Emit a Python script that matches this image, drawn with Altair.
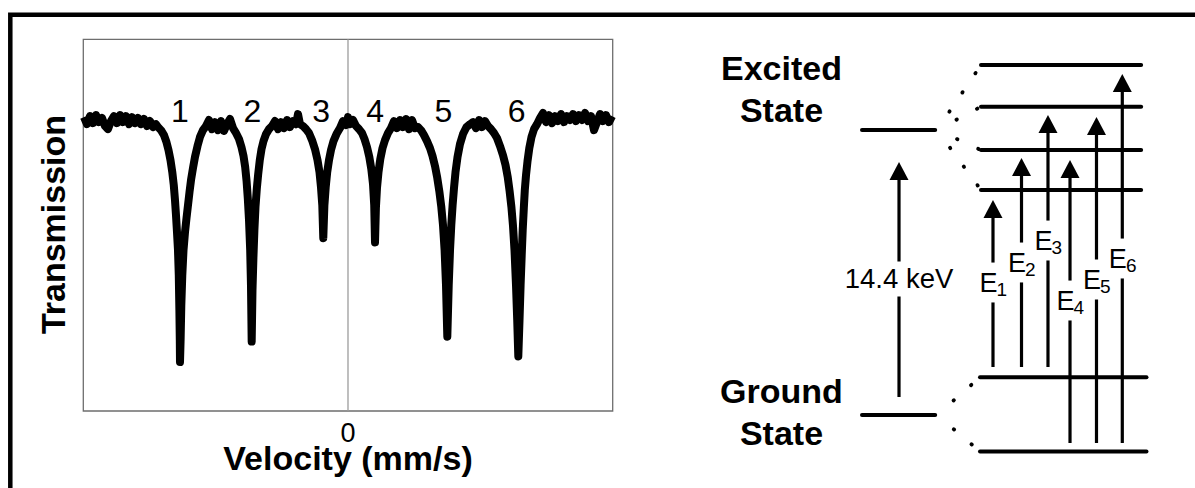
import altair as alt
import pandas as pd

FONT = "Liberation Sans"

# ---------------- Mossbauer spectrum ----------------
velocity = [
    -8.279, -8.184, -8.090, -7.996, -7.902, -7.808, -7.714, -7.620, -7.526, -7.432,
    -7.338, -7.244, -7.150, -7.056, -6.961, -6.867, -6.773, -6.679, -6.585, -6.491,
    -6.397, -6.303, -6.209, -6.115, -6.021,
    -5.958, -5.864, -5.770, -5.692, -5.629, -5.566, -5.510, -5.463, -5.425, -5.394,
    -5.362, -5.331, -5.306, -5.287, -5.274, -5.268, -5.249, -5.227, -5.196, -5.158,
    -5.111, -5.064, -5.017, -4.970, -4.923, -4.861, -4.798, -4.719, -4.641, -4.547, -4.453,
    -4.359, -4.265, -4.171, -4.077, -3.982, -3.888, -3.794, -3.700,
    -3.606, -3.512, -3.418, -3.340, -3.277, -3.224, -3.180, -3.142, -3.104, -3.067,
    -3.042, -3.020, -2.995, -2.966, -2.935, -2.901, -2.860, -2.816, -2.766, -2.712,
    -2.650, -2.571, -2.477, -2.383,
    -2.289, -2.195, -2.101, -2.007, -1.913, -1.819, -1.725, -1.631, -1.568, -1.505,
    -1.411, -1.317, -1.223, -1.129, -1.035, -0.956, -0.894, -0.847, -0.806, -0.775,
    -0.740, -0.699, -0.652, -0.596, -0.533, -0.455, -0.361, -0.251,
    -0.157, -0.063, 0.000, 0.063, 0.157,
    0.251, 0.345, 0.439, 0.517, 0.596, 0.668, 0.731, 0.784, 0.822, 0.847,
    0.875, 0.909, 0.956, 1.013, 1.082, 1.160, 1.254, 1.348,
    1.442, 1.537, 1.631, 1.725, 1.819, 1.913, 2.007, 2.101,
    2.195, 2.289, 2.383, 2.477, 2.571, 2.650, 2.728, 2.800, 2.863, 2.923,
    2.979, 3.029, 3.073, 3.114, 3.158, 3.199, 3.239, 3.280, 3.324, 3.371,
    3.434, 3.512, 3.606, 3.716, 3.826,
    3.920, 4.014, 4.108, 4.202, 4.296,
    4.390, 4.484, 4.578, 4.672, 4.766, 4.860, 4.939, 5.008, 5.067, 5.124,
    5.174, 5.221, 5.268, 5.306, 5.340, 5.378, 5.412, 5.447, 5.478, 5.513,
    5.544, 5.582, 5.629, 5.685, 5.754, 5.833, 5.927,
    6.021, 6.115, 6.209, 6.303, 6.397, 6.491, 6.585, 6.679, 6.773, 6.867,
    6.961, 7.056, 7.150, 7.244, 7.338, 7.432, 7.526, 7.620, 7.714, 7.808,
    7.902, 7.996, 8.090, 8.184, 8.279,
]
transmission = [
    100.19, 99.85, 100.24, 99.90, 100.29, 99.95, 100.15, 99.76, 99.61, 100.00,
    100.24, 99.90, 100.29, 99.95, 100.24, 99.85, 100.19, 99.90, 100.15, 99.85,
    100.10, 99.76, 100.00, 99.71, 99.85,
    99.71, 99.56, 99.32, 98.98, 98.60, 98.11, 97.53, 96.90, 96.17, 95.45,
    94.62, 93.75, 92.54, 90.85, 89.39, 88.33, 89.39, 91.09, 92.54, 93.75,
    94.62, 95.30, 95.93, 96.56, 97.14, 97.72, 98.26, 98.79, 99.23, 99.56, 99.76,
    100.05, 99.61, 99.95, 99.56, 100.00, 99.52, 99.85, 100.10,
    99.66, 99.42, 99.13, 98.74, 98.31, 97.77, 97.09, 96.27, 95.21, 93.75,
    92.06, 89.32, 91.82, 93.37, 94.72, 95.84, 96.71, 97.43, 98.11, 98.64,
    99.03, 99.37, 99.61, 99.76,
    100.00, 99.61, 99.95, 99.66, 100.05, 99.71, 100.00, 99.85, 100.34, 99.85,
    99.76, 99.61, 99.42, 99.08, 98.64, 98.11, 97.53, 96.80, 95.93, 94.33,
    95.93, 96.80, 97.53, 98.11, 98.60, 99.03, 99.37, 99.66,
    100.00, 99.81, 100.19, 99.85, 100.05,
    99.76, 99.61, 99.42, 99.13, 98.74, 98.26, 97.68, 96.95, 95.93, 94.12,
    95.79, 96.76, 97.53, 98.16, 98.69, 99.08, 99.42, 99.66,
    100.00, 99.66, 100.05, 99.71, 100.10, 99.61, 100.05, 99.66,
    99.71, 99.56, 99.32, 99.03, 98.69, 98.31, 97.82, 97.24, 96.61, 95.88,
    94.96, 93.75, 92.06, 89.56, 92.06, 93.75, 94.96, 95.93, 96.76, 97.53,
    98.26, 98.89, 99.37, 99.71, 99.85,
    99.95, 99.66, 100.05, 99.71, 100.00,
    99.76, 99.61, 99.42, 99.18, 98.79, 98.35, 97.87, 97.29, 96.61, 95.84,
    94.92, 93.75, 92.06, 90.36, 88.60, 90.36, 92.06, 93.51, 94.72, 95.79,
    96.66, 97.38, 98.06, 98.69, 99.23, 99.61, 99.85,
    100.15, 100.39, 99.95, 100.29, 99.90, 100.24, 100.00, 100.34, 99.95, 100.24,
    100.05, 100.34, 100.00, 100.29, 100.05, 100.39, 100.00, 100.24, 99.56, 99.95,
    100.34, 100.00, 100.29, 99.95, 100.24,
]
assert len(velocity) == len(transmission)

peak_names = ["1", "2", "3", "4", "5", "6"]
peak_label_v = [-5.27, -3.00, -0.84, 0.85, 2.99, 5.29]
peak_label_t = 99.95

v_domain = [-8.3, 8.3]
t_domain = [85.96, 103.96]
zero_tick = ["0"]
x_title = "Velocity (mm/s)"
y_title = "Transmission"

# ---------------- energy level diagram (schematic units) ----------------
left_levels_x = [0.7, 26.3]
left_levels_e = [10.0, 0.0]                       # excited, ground (unsplit)
excited_split_e = [12.281, 10.818, 9.298, 7.895]
excited_split_x = [42.31, 98.3]
ground_split_e = [1.323, -1.281]
ground_split_x = [41.96, 100.17]
fan_start_x = 26.92

arrow_names = ["14.4 keV", "E1", "E2", "E3", "E4", "E5", "E6"]
arrow_x = [13.64, 46.50, 56.47, 65.73, 73.43, 82.69, 91.71]
arrow_bottom = [0.632, 1.684, 1.684, 1.684, -0.982, -0.982, -0.982]
arrow_tip = [8.877, 7.544, 9.018, 10.526, 8.947, 10.456, 11.965]
label_base = [4.439, 4.316, 5.018, 5.789, 3.684, 4.421, 5.158]
label_gap = [0.614, 0.70, 0.70, 0.70, 0.70, 0.70, 0.70]

state_text = ["Excited", "State", "Ground", "State"]
state_text_e = [11.754, 10.291, 0.411, -1.053]
state_text_x = -27.45

VX = alt.Scale(domain=v_domain, range=[83.3, 612.7], nice=False, zero=False)
TY = alt.Scale(domain=t_domain, range=[411, 39.3], nice=False, zero=False)
DX = alt.Scale(domain=[0, 100], range=[860, 1146], nice=False, zero=False)
DY = alt.Scale(domain=[0, 10], range=[415, 130], nice=False, zero=False)

# ---------------- spectrum layers ----------------
spec_df = pd.DataFrame({"v": velocity, "t": transmission})
box_df = pd.DataFrame({"v1": [v_domain[0]], "v2": [v_domain[1]],
                       "t1": [t_domain[0]], "t2": [t_domain[1]]})

box = alt.Chart(box_df).mark_rect(filled=False, stroke="#6e6e6e", strokeWidth=1.3).encode(
    x=alt.X("v1:Q", scale=VX, axis=None), x2="v2:Q",
    y=alt.Y("t1:Q", scale=TY, axis=None), y2="t2:Q")
zero = alt.Chart(pd.DataFrame({"v": [0.0], "t1": [t_domain[0]], "t2": [t_domain[1]]})).mark_rule(
    color="#9c9c9c", strokeWidth=1.3).encode(
    x=alt.X("v:Q", scale=VX, axis=None),
    y=alt.Y("t1:Q", scale=TY, axis=None), y2="t2:Q")
line = alt.Chart(spec_df).mark_line(color="black", strokeWidth=8, strokeJoin="round").encode(
    x=alt.X("v:Q", scale=VX, axis=None),
    y=alt.Y("t:Q", scale=TY, axis=None))
peak_lbl = alt.Chart(pd.DataFrame({"v": peak_label_v, "t": [peak_label_t] * 6, "s": peak_names})).mark_text(
    font=FONT, fontSize=32, color="black", align="center", baseline="alphabetic").encode(
    x=alt.X("v:Q", scale=VX, axis=None), y=alt.Y("t:Q", scale=TY, axis=None), text="s:N")
zero_lbl = alt.Chart(pd.DataFrame({"v": [0.0], "t": [84.48], "s": zero_tick})).mark_text(
    font=FONT, fontSize=27, color="black", align="center", baseline="alphabetic").encode(
    x=alt.X("v:Q", scale=VX, axis=None), y=alt.Y("t:Q", scale=TY, axis=None), text="s:N")
xt = alt.Chart(pd.DataFrame({"v": [0.0], "t": [83.10], "s": [x_title]})).mark_text(
    font=FONT, fontSize=34, fontWeight="bold", color="black", align="center", baseline="alphabetic").encode(
    x=alt.X("v:Q", scale=VX, axis=None), y=alt.Y("t:Q", scale=TY, axis=None), text="s:N")
yt = alt.Chart(pd.DataFrame({"v": [-8.868], "t": [94.99], "s": [y_title]})).mark_text(
    font=FONT, fontSize=34, fontWeight="bold", color="black", align="center", baseline="alphabetic",
    angle=270).encode(
    x=alt.X("v:Q", scale=VX, axis=None), y=alt.Y("t:Q", scale=TY, axis=None), text="s:N")

spectrum = alt.layer(box, zero, line, peak_lbl, zero_lbl, xt, yt)

# ---------------- diagram layers ----------------
lv_rows = []
for e in left_levels_e:
    lv_rows.append({"x1": left_levels_x[0], "x2": left_levels_x[1], "e": e})
for e in excited_split_e:
    lv_rows.append({"x1": excited_split_x[0], "x2": excited_split_x[1], "e": e})
for e in ground_split_e:
    lv_rows.append({"x1": ground_split_x[0], "x2": ground_split_x[1], "e": e})
levels = alt.Chart(pd.DataFrame(lv_rows)).mark_rule(color="black", strokeWidth=4, strokeCap="round").encode(
    x=alt.X("x1:Q", scale=DX, axis=None), x2="x2:Q",
    y=alt.Y("e:Q", scale=DY, axis=None))

fan_rows = []
for e in excited_split_e:
    fan_rows.append({"x1": fan_start_x, "e1": left_levels_e[0], "x2": excited_split_x[0], "e2": e})
for e in ground_split_e:
    fan_rows.append({"x1": fan_start_x, "e1": left_levels_e[1], "x2": ground_split_x[0], "e2": e})
fans = alt.Chart(pd.DataFrame(fan_rows)).mark_rule(
    color="black", strokeWidth=3.8, strokeCap="round", strokeDash=[0.5, 22.7], strokeDashOffset=1.2).encode(
    x=alt.X("x1:Q", scale=DX, axis=None), x2="x2:Q",
    y=alt.Y("e1:Q", scale=DY, axis=None), y2="e2:Q")

arr_df = pd.DataFrame({"name": arrow_names, "x": arrow_x, "bottom": arrow_bottom, "tip": arrow_tip,
                       "base": label_base, "gap": label_gap})
arr_df["center"] = arr_df["base"] + 0.333
seg_rows = []
for _, r in arr_df.iterrows():
    seg_rows.append({"x": r["x"], "e1": r["bottom"], "e2": r["center"] - r["gap"]})
    seg_rows.append({"x": r["x"], "e1": r["center"] + r["gap"], "e2": r["tip"] - 0.35})
shafts = alt.Chart(pd.DataFrame(seg_rows)).mark_rule(color="black", strokeWidth=3.2).encode(
    x=alt.X("x:Q", scale=DX, axis=None),
    y=alt.Y("e1:Q", scale=DY, axis=None), y2="e2:Q")
heads = alt.Chart(arr_df).mark_point(shape="M0,0L1,1.9L-1,1.9Z", size=361, filled=True,
                                     color="black", opacity=1, strokeWidth=0).encode(
    x=alt.X("x:Q", scale=DX, axis=None), y=alt.Y("tip:Q", scale=DY, axis=None))

kev = alt.Chart(arr_df.iloc[[0]]).mark_text(
    font=FONT, fontSize=27.5, color="black", align="center", baseline="alphabetic").encode(
    x=alt.X("x:Q", scale=DX, axis=None), y=alt.Y("base:Q", scale=DY, axis=None), text="name:N")
e_df = arr_df.iloc[1:].copy()
e_df["main"] = "E"
e_df["sub"] = e_df["name"].str[1:]
e_main = alt.Chart(e_df).mark_text(
    font=FONT, fontSize=27, color="black", align="right", baseline="alphabetic", dx=4.5).encode(
    x=alt.X("x:Q", scale=DX, axis=None), y=alt.Y("base:Q", scale=DY, axis=None), text="main:N")
e_sub = alt.Chart(e_df).mark_text(
    font=FONT, fontSize=19, color="black", align="left", baseline="alphabetic", dx=3.6, dy=4).encode(
    x=alt.X("x:Q", scale=DX, axis=None), y=alt.Y("base:Q", scale=DY, axis=None), text="sub:N")

states = alt.Chart(pd.DataFrame({"x": [state_text_x] * 4, "e": state_text_e, "s": state_text})).mark_text(
    font=FONT, fontSize=34, fontWeight="bold", color="black", align="center", baseline="alphabetic").encode(
    x=alt.X("x:Q", scale=DX, axis=None), y=alt.Y("e:Q", scale=DY, axis=None), text="s:N")

diagram = alt.layer(levels, fans, shafts, heads, kev, e_main, e_sub, states)

# ---------------- outer frame ----------------
frame = alt.Chart(pd.DataFrame({"k": [0]})).mark_rect(
    filled=False, stroke="black", strokeWidth=4.5).encode(
    x=alt.value(10.3), y=alt.value(14.8), x2=alt.value(1215), y2=alt.value(510))

chart = alt.layer(spectrum, diagram, frame).resolve_scale(
    x="independent", y="independent").properties(
    width=1195, height=488, autosize=alt.AutoSizeParams(type="none"), padding=0,
    background="white").configure_view(stroke=None)

chart.save("out.html", embed_options={"renderer": "svg", "actions": False})
